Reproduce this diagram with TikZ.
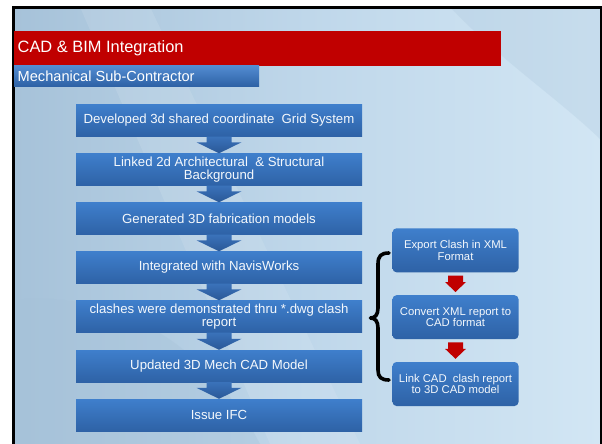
\documentclass[tikz,border=0pt]{standalone}
\usepackage{fontspec}
\setmainfont{Liberation Sans}
\usetikzlibrary{calc}
\definecolor{bgdark}{HTML}{A6C2D9}
\definecolor{bglight}{HTML}{D2E6F4}
\definecolor{bgmid}{HTML}{BFD7EA}
\definecolor{boxtop}{HTML}{3F7FCC}
\definecolor{boxbot}{HTML}{2E62A6}
\definecolor{arrtop}{HTML}{3A72BA}
\definecolor{arrbot}{HTML}{2A5897}
\definecolor{titlered}{HTML}{C00000}
\definecolor{boxtext}{HTML}{F4F8FC}
\tikzset{
  mainbox/.style={rectangle, minimum width=286pt, minimum height=32pt, inner sep=0pt,
    top color=boxtop, bottom color=boxbot, text=boxtext, align=center,
    font=\fontsize{13.2}{12.7}\selectfont},
  sidebox/.style={rectangle, rounded corners=4pt, minimum width=126pt, minimum height=44pt, inner sep=0pt,
    top color=boxtop, bottom color=boxbot, text=boxtext, align=center,
    font=\fontsize{11.3}{11.7}\selectfont},
  bluearrow/.style={top color=arrtop, bottom color=arrbot},
  redarrow/.style={fill=titlered},
  bracepath/.style={line width=3.6pt, line cap=round, line join=round, black}
}
\newcommand\bigdownarrow[2]{%
  \path[bluearrow] let \p1=(#1.south), \p2=(#2.north) in
    (\x1-12.5pt,\y1) -- (\x1+12.5pt,\y1) -- (\x1+12.5pt,\y2+11pt) -- (\x1+22.5pt,\y2+11pt)
    -- (\x1,\y2) -- (\x1-22.5pt,\y2+11pt) -- (\x1-12.5pt,\y2+11pt) -- cycle;}
\newcommand\smalldownarrow[2]{%
  \path[redarrow] let \p1=(#1.south), \p2=(#2.north) in
    (\x1-7.5pt,\y1-3pt) -- (\x1+7.5pt,\y1-3pt) -- (\x1+7.5pt,\y2+13pt) -- (\x1+10.5pt,\y2+13pt)
    -- (\x1,\y2+3pt) -- (\x1-10.5pt,\y2+13pt) -- (\x1-7.5pt,\y2+13pt) -- cycle;}
\begin{document}
\begin{tikzpicture}[x=1pt,y=-1pt]
\useasboundingbox (0,0) rectangle (602,444);
\fill[white] (0,0) rectangle (602,444);
% background
\shade[left color=bgdark, right color=bglight, middle color=bgmid] (13,7) rectangle (601,444);
\fill[white, opacity=0.10] (80,7) -- (150,7) -- (360,444) -- (270,444) -- cycle;
\fill[bgdark, opacity=0.35] (13,300) .. controls (100,290) and (200,330) .. (260,444) -- (13,444) -- cycle;
\fill[bgdark, opacity=0.25] (450,7) -- (601,7) -- (601,140) .. controls (560,100) and (500,60) .. (450,7) -- cycle;
% frame
\draw[line width=3pt, black] (13.5,444) -- (13.5,7.5) -- (601,7.5) -- (601,444);
% title bars
\fill[titlered] (14,31) rectangle (500.7,65.7);
\node[anchor=west, text=white, font=\fontsize{16.4}{18}\selectfont, inner sep=0pt] (title) at (17.5,48.5) {CAD \& BIM Integration};
\shade[top color=boxtop!90!white, bottom color=boxbot] (14,66) rectangle (259,86);
\node[anchor=west, text=white, font=\fontsize{14.6}{16}\selectfont, inner sep=0pt] (subtitle) at (17.5,76) {Mechanical Sub-Contractor};
% main boxes
\node[mainbox] (b1) at (219,120.5) {Developed 3d shared coordinate\ \ Grid System};
\node[mainbox] (b2) at (219,169.5) {Linked 2d Architectural\ \ \& Structural\\Background};
\node[mainbox] (b3) at (219,218.5) {Generated 3D fabrication models};
\node[mainbox] (b4) at (219,267.5) {Integrated with NavisWorks};
\node[mainbox] (b5) at (219,316.5) {clashes were demonstrated thru *.dwg clash\\report};
\node[mainbox] (b6) at (219,366) {Updated 3D Mech CAD Model};
\node[mainbox] (b7) at (219,415) {Issue IFC};
\bigdownarrow{b1}{b2}
\bigdownarrow{b2}{b3}
\bigdownarrow{b3}{b4}
\bigdownarrow{b4}{b5}
\bigdownarrow{b5}{b6}
\bigdownarrow{b6}{b7}
% side boxes
\node[sidebox] (s1) at (455.5,250.3) {Export Clash in XML\\Format};
\node[sidebox] (s2) at (455.5,317.2) {Convert XML report to\\CAD format};
\node[sidebox] (s3) at (455.5,384) {Link CAD\ \ clash report\\to 3D CAD model};
\smalldownarrow{s1}{s2}
\smalldownarrow{s2}{s3}
% brace
\draw[bracepath] (389,253) .. controls (381,253) and (378,256) .. (378,264) -- (378,308)
  .. controls (378,315) and (375,318) .. (370.5,318)
  .. controls (375,318) and (378,321) .. (378,328) -- (378,370)
  .. controls (378,377) and (381,380) .. (389,380);
\end{tikzpicture}
\end{document}
